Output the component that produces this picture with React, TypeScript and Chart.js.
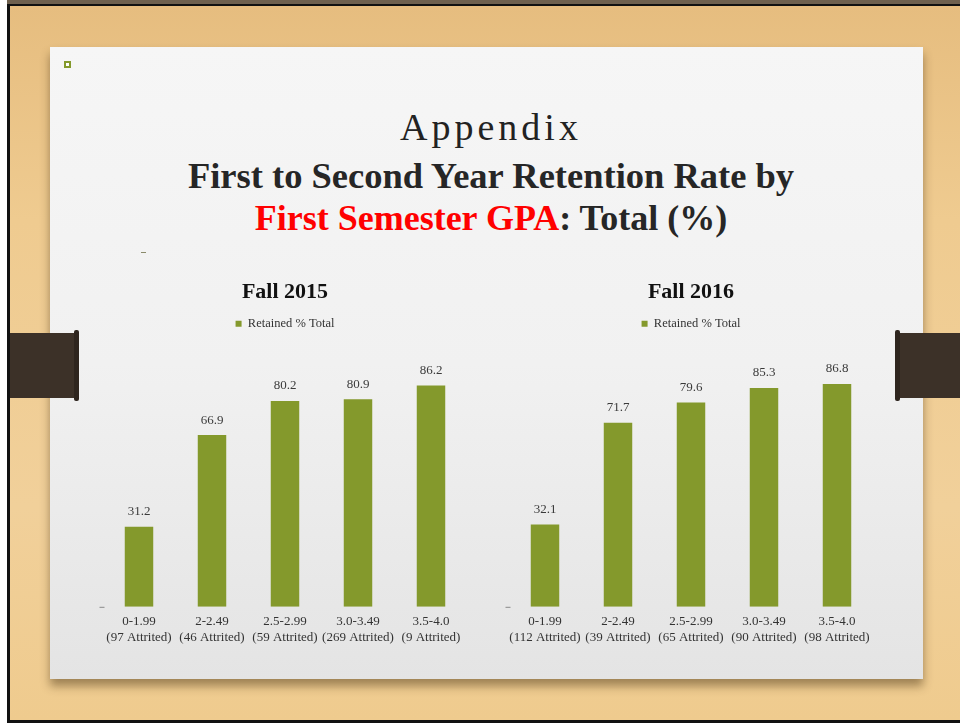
import React, { useEffect, useRef } from "react";
import { Chart, registerables } from "chart.js";

Chart.register(...registerables);

const gpaBands = ["0-1.99", "2-2.49", "2.5-2.99", "3.0-3.49", "3.5-4.0"];
const attrited2015 = ["(97 Attrited)", "(46 Attrited)", "(59 Attrited)", "(269 Attrited)", "(9 Attrited)"];
const retained2015 = [31.2, 66.9, 80.2, 80.9, 86.2];
const attrited2016 = ["(112 Attrited)", "(39 Attrited)", "(65 Attrited)", "(90 Attrited)", "(98 Attrited)"];
const retained2016 = [32.1, 71.7, 79.6, 85.3, 86.8];
const seriesName = "Retained % Total";

const SERIF = "'Liberation Serif', 'Times New Roman', serif";
const BAR = "#84992C";

const valueLabels = {
  id: "valueLabels",
  afterDatasetsDraw(chart: any) {
    const ctx = chart.ctx;
    ctx.save();
    ctx.font = `13px ${SERIF}`;
    ctx.fillStyle = "#3a3a3a";
    ctx.textAlign = "center";
    ctx.textBaseline = "middle";
    const meta = chart.getDatasetMeta(0);
    const data = chart.data.datasets[0].data;
    meta.data.forEach((bar: any, i: number) => {
      ctx.fillText(String(data[i]), bar.x, bar.y - 15);
    });
    // small dash at the left end of the category axis
    const a = chart.chartArea;
    ctx.strokeStyle = "#8a8a8a";
    ctx.lineWidth = 1;
    ctx.beginPath();
    ctx.moveTo(a.left - 3, a.bottom + 0.5);
    ctx.lineTo(a.left + 2, a.bottom + 0.5);
    ctx.stroke();
    ctx.restore();
  },
};

function BarChart(props: { title: string; values: number[]; attrited: string[]; left: number }) {
  const ref = useRef<HTMLCanvasElement>(null);
  useEffect(() => {
    if (!ref.current) return;
    const labels = gpaBands.map((b, i) => [b, props.attrited[i]]);
    const chart = new Chart(ref.current, {
      type: "bar",
      data: {
        labels,
        datasets: [
          {
            label: seriesName,
            data: props.values,
            backgroundColor: BAR,
            borderWidth: 0,
            categoryPercentage: 1,
            barPercentage: 0.39,
          },
        ],
      },
      options: {
        responsive: false,
        animation: false,
        layout: { padding: { left: 12.5, right: 12.5, top: 0, bottom: 6 } },
        plugins: {
          title: {
            display: true,
            text: props.title,
            color: "#111",
            font: { family: SERIF, size: 22, weight: "bold" },
            padding: { top: 9, bottom: 6 },
          },
          legend: {
            display: true,
            labels: {
              boxWidth: 6,
              boxHeight: 6,
              padding: 6,
              color: "#333",
              font: { family: SERIF, size: 12.5 },
            },
          },
          tooltip: { enabled: false },
        },
        scales: {
          x: {
            grid: { display: false, drawTicks: false },
            border: { display: false },
            ticks: {
              color: "#333",
              font: { family: SERIF, size: 13 },
              padding: 7,
              maxRotation: 0,
              autoSkip: false,
            },
          },
          y: { display: false, min: 0, max: 104 },
        },
      },
      plugins: [valueLabels],
    });
    return () => chart.destroy();
  }, []);
  return (
    <canvas
      ref={ref}
      width={390}
      height={388}
      style={{ position: "absolute", left: props.left, top: 270, width: 390, height: 388 }}
    />
  );
}

export default function App() {
  return (
    <div
      style={{
        position: "absolute",
        left: 0,
        top: 0,
        width: 960,
        height: 723,
        overflow: "hidden",
        background: "#ffffff",
      }}
    >
      <div style={{ position: "absolute", left: 7, top: 0, width: 953, height: 4, background: "#6e604e" }} />
      <div
        style={{
          position: "absolute",
          left: 7,
          top: 4,
          width: 953,
          height: 719,
          boxSizing: "border-box",
          borderTop: "2px solid #111",
          borderLeft: "3px solid #111",
          borderBottom: "3px solid #111",
          background: "linear-gradient(180deg, #E6BD7F 0%, #EFCB90 30%, #F1D09A 70%, #EFCB8E 100%)",
        }}
      />
      {/* panel */}
      <div
        style={{
          position: "absolute",
          left: 50,
          top: 47,
          width: 873,
          height: 632,
          background: "linear-gradient(180deg, #F6F6F6 0%, #F1F1F1 50%, #E4E4E4 100%)",
          boxShadow: "0 7px 9px rgba(60,40,10,0.45)",
        }}
      />
      {/* binder clips */}
      <div style={{ position: "absolute", left: 10, top: 333, width: 67, height: 65, background: "#3C3128" }} />
      <div style={{ position: "absolute", left: 897, top: 333, width: 63, height: 65, background: "#3C3128" }} />
      <div style={{ position: "absolute", left: 74, top: 330, width: 5, height: 71, borderRadius: 2, background: "#2E251E" }} />
      <div style={{ position: "absolute", left: 895, top: 330, width: 5, height: 71, borderRadius: 2, background: "#2E251E" }} />
      <div
        style={{
          position: "absolute",
          left: 64,
          top: 61,
          width: 5,
          height: 5,
          background: "#fff",
          border: "1px solid #84992C",
          boxShadow: "inset 0 0 0 1px #84992C",
        }}
      />
      <div style={{ position: "absolute", left: 141, top: 252, width: 5, height: 1, background: "#8a8a6a" }} />
      <div
        style={{
          position: "absolute",
          left: 0,
          top: 108,
          width: 982,
          textAlign: "center",
          fontFamily: SERIF,
          fontSize: 38,
          lineHeight: "38px",
          letterSpacing: 4,
          color: "#222",
          whiteSpace: "nowrap",
        }}
      >
        Appendix
      </div>
      <div
        style={{
          position: "absolute",
          left: 0,
          top: 158,
          width: 982,
          textAlign: "center",
          fontFamily: SERIF,
          fontWeight: "bold",
          fontSize: 36.5,
          lineHeight: "36px",
          color: "#262626",
          whiteSpace: "nowrap",
        }}
      >
        First to Second Year Retention Rate by
      </div>
      <div
        style={{
          position: "absolute",
          left: 0,
          top: 200,
          width: 982,
          textAlign: "center",
          fontFamily: SERIF,
          fontWeight: "bold",
          fontSize: 36,
          lineHeight: "36px",
          color: "#262626",
          whiteSpace: "nowrap",
        }}
      >
        <span style={{ color: "#FF0000" }}>First Semester GPA</span>: Total (%)
      </div>
      <BarChart title="Fall 2015" values={retained2015} attrited={attrited2015} left={90} />
      <BarChart title="Fall 2016" values={retained2016} attrited={attrited2016} left={496} />
    </div>
  );
}
